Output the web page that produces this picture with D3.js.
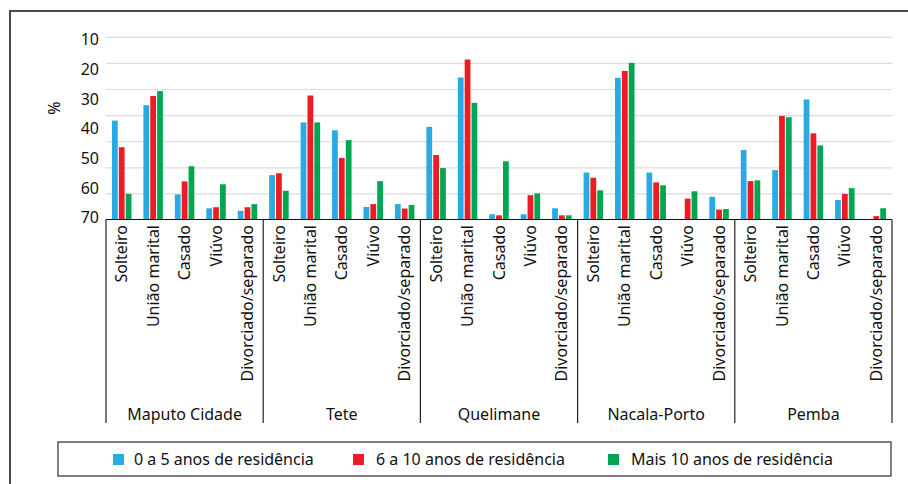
<!DOCTYPE html>
<html>
<head>
<meta charset="utf-8">
<script src="https://cdn.jsdelivr.net/npm/d3@7"></script>
<style>
  body { margin: 0; background: #fff; }
  svg { display: block; font-family: "Noto Sans", "Open Sans", sans-serif; }
</style>
</head>
<body>
<svg id="chart" width="908" height="484"></svg>
<script>
const cities = ["Maputo Cidade", "Tete", "Quelimane", "Nacala-Porto", "Pemba"];
const states = ["Solteiro", "União marital", "Casado", "Viúvo", "Divorciado/separado"];
const seriesNames = ["0 a 5 anos de residência", "6 a 10 anos de residência", "Mais 10 anos de residência"];
const yTickLabels = ["10", "20", "30", "40", "50", "60", "70"];

// values per city, in the order of states
const upTo5 = [
  [37.9, 43.8, 9.6, 4.3, 3.3],
  [17.0, 37.2, 34.2, 4.8, 5.9],
  [35.5, 54.4, 2.0, 2.0, 4.3],
  [18.0, 54.3, 18.0, 0, 8.7],
  [26.6, 18.9, 46.0, 7.5, 0]
];
const from6to10 = [
  [27.7, 47.3, 14.6, 4.7, 4.7],
  [17.7, 47.5, 23.6, 5.9, 4.2],
  [24.7, 61.3, 1.6, 9.3, 1.6],
  [16.0, 56.9, 14.2, 8.0, 3.8],
  [14.7, 39.7, 33.0, 9.8, 1.3]
];
const over10 = [
  [9.8, 49.2, 20.4, 13.5, 5.9],
  [11.0, 37.2, 30.4, 14.7, 5.6],
  [19.7, 44.7, 22.3, 10.0, 1.6],
  [11.2, 60.0, 13.1, 10.8, 4.0],
  [15.0, 39.2, 28.4, 12.0, 4.3]
];
const seriesValues = [upTo5, from6to10, over10];
const colors = ["#29abe2", "#ed1c24", "#00a651"];

const svg = d3.select("#chart");
const plot = { left: 106, right: 892, top: 36.8, bottom: 219.5 };
const fontSize = 16;

const x0 = d3.scaleBand().domain(cities).range([plot.left, plot.right]);
const x1 = d3.scaleBand().domain(states).range([0, x0.bandwidth()]);
const x2 = d3.scaleBand().domain(seriesNames)
  .range([x1.bandwidth() * 0.19, x1.bandwidth() * 0.81])
  .paddingInner(0.16);
const y = d3.scaleLinear().domain([0, 70]).range([plot.bottom, plot.top]);
const yLabel = d3.scalePoint().domain(yTickLabels).range([39.5, 217.7]);

// outer frame (top and left only)
svg.append("path")
  .attr("d", "M10,484 L10,11 L908,11")
  .attr("fill", "none")
  .attr("stroke", "#4a4a4a")
  .attr("stroke-width", 2);

// gridlines
svg.append("g")
  .attr("transform", `translate(${plot.left},0)`)
  .call(d3.axisLeft(y).tickValues(d3.range(10, 71, 10)).tickSize(-(plot.right - plot.left)).tickFormat(""))
  .call(g => g.select(".domain").remove())
  .call(g => g.selectAll(".tick line").attr("stroke", "#dcdcdc").attr("stroke-width", 1.2));

// y tick labels
svg.append("g")
  .attr("transform", "translate(99,0)")
  .call(d3.axisLeft(yLabel).tickSize(0).tickPadding(0))
  .call(g => g.select(".domain").remove())
  .call(g => g.selectAll("text").attr("font-size", fontSize).attr("fill", "#111")
    .attr("font-family", "Noto Sans, sans-serif"));

svg.append("text")
  .attr("transform", "translate(60,108) rotate(-90)")
  .attr("text-anchor", "middle")
  .attr("font-size", fontSize)
  .attr("fill", "#111")
  .text("%");

// bars
const flat = [];
cities.forEach((c, ci) => {
  states.forEach((s, si) => {
    seriesNames.forEach((n, ni) => {
      flat.push({ city: c, state: s, series: n, idx: ni, value: seriesValues[ni][ci][si] });
    });
  });
});

svg.append("g")
  .selectAll("rect")
  .data(flat.filter(d => d.value > 0))
  .enter()
  .append("rect")
  .attr("x", d => x0(d.city) + x1(d.state) + x2(d.series))
  .attr("y", d => y(d.value))
  .attr("width", x2.bandwidth())
  .attr("height", d => y(0) - y(d.value))
  .attr("fill", d => colors[d.idx]);

// baseline and group separators
svg.append("line")
  .attr("x1", plot.left).attr("x2", plot.right)
  .attr("y1", y(0)).attr("y2", y(0))
  .attr("stroke", "#111").attr("stroke-width", 1.2);

const bounds = cities.map(c => x0(c)).concat([plot.right]);
svg.append("g")
  .selectAll("line")
  .data(bounds)
  .enter()
  .append("line")
  .attr("x1", d => d).attr("x2", d => d)
  .attr("y1", y(0)).attr("y2", 423)
  .attr("stroke", "#222").attr("stroke-width", 1.2);

// category labels
const catLabels = [];
cities.forEach(c => states.forEach(s => catLabels.push({ city: c, state: s })));
svg.append("g")
  .selectAll("text")
  .data(catLabels)
  .enter()
  .append("text")
  .attr("transform", d => `translate(${x0(d.city) + x1(d.state) + x1.bandwidth() / 2},225) rotate(-90)`)
  .attr("text-anchor", "end")
  .attr("dy", "0.35em")
  .attr("font-size", fontSize)
  .attr("fill", "#111")
  .text(d => d.state);

// city labels
svg.append("g")
  .selectAll("text")
  .data(cities)
  .enter()
  .append("text")
  .attr("x", d => x0(d) + x0.bandwidth() / 2)
  .attr("y", 420)
  .attr("text-anchor", "middle")
  .attr("font-size", fontSize)
  .attr("fill", "#111")
  .text(d => d);

// legend
svg.append("rect")
  .attr("x", 58).attr("y", 442)
  .attr("width", 833).attr("height", 34)
  .attr("fill", "none")
  .attr("stroke", "#555").attr("stroke-width", 1.5);

const legendX = [113, 353, 608];
const legend = svg.append("g")
  .selectAll("g")
  .data(seriesNames)
  .enter()
  .append("g")
  .attr("transform", (d, i) => `translate(${legendX[i]},454)`);

legend.append("rect")
  .attr("width", 11).attr("height", 11)
  .attr("fill", (d, i) => colors[i]);

legend.append("text")
  .attr("x", (d, i) => i === 0 ? 21 : 23)
  .attr("y", 5.5)
  .attr("dy", "0.35em")
  .attr("font-size", fontSize)
  .attr("fill", "#111")
  .text(d => d);
</script>
</body>
</html>
